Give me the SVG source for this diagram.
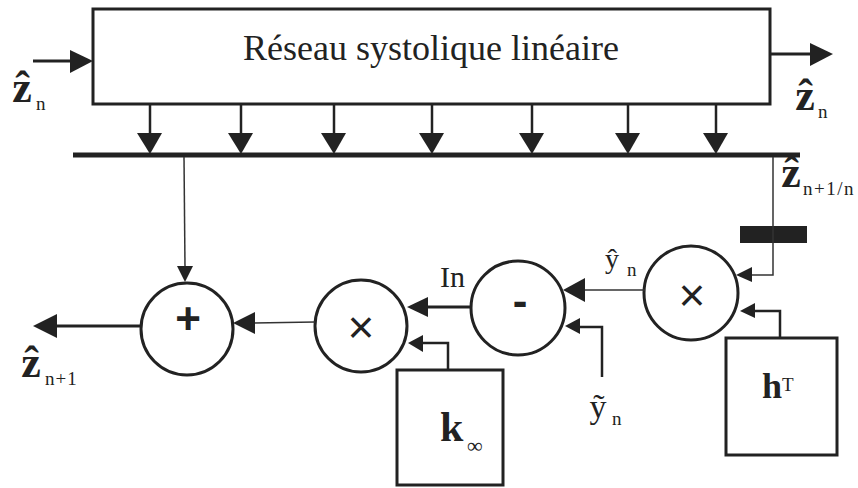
<svg xmlns="http://www.w3.org/2000/svg" width="858" height="488" viewBox="0 0 858 488">
<style>
.box{fill:#fff;stroke:#222;stroke-width:3}
.circ{fill:#fff;stroke:#222;stroke-width:3}
.thin{fill:none;stroke:#333;stroke-width:1.5}
.med{fill:none;stroke:#222;stroke-width:2.5}
.thick{fill:none;stroke:#222;stroke-width:3}
.head{fill:#222;stroke:none}
.t{font-family:"Liberation Serif","Times New Roman",serif;fill:#222}
.b{font-weight:bold}
.z{font-family:"Liberation Serif","Times New Roman",serif;fill:#222;font-weight:bold;font-size:44px;text-anchor:middle}
.s{font-family:"Liberation Serif","Times New Roman",serif;fill:#222;font-size:19px}
.op{font-family:"Liberation Sans",Arial,sans-serif;fill:#222}
</style>
<rect width="858" height="488" fill="#fff"/>
<g id="reseau">
<rect class="box" x="93" y="9" width="677" height="95"/>
<text class="t" x="431" y="60" font-size="36" text-anchor="middle">Réseau systolique linéaire</text>
</g>
<g id="bus">
<line x1="73" y1="155" x2="800" y2="155" stroke="#222" stroke-width="5"/>
</g>
<g id="register">
<rect x="740" y="226" width="67" height="17" fill="#222"/>
</g>
<g id="add">
<circle class="circ" cx="187" cy="329" r="46"/>
<text class="op b" x="188" y="334" font-size="44" text-anchor="middle">+</text>
</g>
<g id="mul1">
<circle class="circ" cx="361" cy="326" r="46"/>
<text class="op" x="361" y="343" font-size="46" text-anchor="middle">×</text>
</g>
<g id="sub">
<circle class="circ" cx="518" cy="308" r="47"/>
<text class="op b" x="520" y="316" font-size="44" text-anchor="middle">-</text>
</g>
<g id="mul2">
<circle class="circ" cx="691" cy="293" r="47"/>
<text class="op" x="692" y="311" font-size="46" text-anchor="middle">×</text>
</g>
<g id="kbox">
<rect class="box" x="397" y="370" width="106" height="115"/>
<text class="t b" x="440" y="441" font-size="42">k</text>
<text class="t" x="467" y="453" font-size="22">∞</text>
</g>
<g id="hbox">
<rect class="box" x="726" y="338" width="111" height="117"/>
<text class="t b" x="762" y="398" font-size="36">h</text>
<text class="t" x="782" y="391" font-size="19">T</text>
</g>
<g id="connectors">
<line class="thick" x1="33" y1="61" x2="75" y2="61"/>
<polygon class="head" points="93,61 70,50 70,73"/>
<line class="thick" x1="770" y1="54" x2="815" y2="54"/>
<polygon class="head" points="833,54 810,43 810,66"/>
<g>
<line class="med" x1="150" y1="104" x2="150" y2="136"/>
<polygon class="head" points="150,154 137,133 162,133"/>
<line class="med" x1="241" y1="104" x2="241" y2="136"/>
<polygon class="head" points="241,154 228,133 253,133"/>
<line class="med" x1="334" y1="104" x2="334" y2="136"/>
<polygon class="head" points="334,154 321,133 346,133"/>
<line class="med" x1="432" y1="104" x2="432" y2="136"/>
<polygon class="head" points="432,154 419,133 444,133"/>
<line class="med" x1="532" y1="104" x2="532" y2="136"/>
<polygon class="head" points="532,154 519,133 544,133"/>
<line class="med" x1="628" y1="104" x2="628" y2="136"/>
<polygon class="head" points="628,154 615,133 640,133"/>
<line class="med" x1="716" y1="104" x2="716" y2="136"/>
<polygon class="head" points="716,154 703,133 728,133"/>
</g>
<line class="thin" x1="184" y1="157" x2="185" y2="268"/>
<polygon class="head" points="185,282 177,266 193,266"/>
<line class="thick" x1="141" y1="326" x2="54" y2="326"/>
<polygon class="head" points="33,326 57,314 57,338"/>
<line class="thin" x1="315" y1="322" x2="252" y2="323"/>
<polygon class="head" points="233,323 255,312 255,334"/>
<line class="thick" x1="471" y1="307" x2="426" y2="307"/>
<polygon class="head" points="407,307 428,297 428,317"/>
<polyline class="med" points="448,370 448,343 421,343"/>
<polygon class="head" points="408,343 423,335 423,352"/>
<line class="thin" x1="645" y1="290" x2="582" y2="290"/>
<polygon class="head" points="563,290 585,278 585,302"/>
<polyline class="med" points="602,377 602,327 578,327"/>
<polygon class="head" points="565,326 580,318 580,334"/>
<polyline class="thin" points="773,157 773,275 750,275"/>
<polygon class="head" points="736,275 752,267 752,282"/>
<polyline class="med" points="780,338 780,311 753,311"/>
<polygon class="head" points="740,311 755,303 755,318"/>
</g>
<g id="labels">
<text class="z" x="22" y="102">ẑ</text>
<text class="s" x="36" y="110">n</text>
<text class="z" x="805" y="110">ẑ</text>
<text class="s" x="818" y="118">n</text>
<text class="z" x="791" y="187">ẑ</text>
<text class="s" x="803" y="195" letter-spacing="1.5">n+1/n</text>
<text class="z" x="31" y="377">ẑ</text>
<text class="s" x="45" y="385" letter-spacing="1">n+1</text>
<text class="t" x="440" y="287" font-size="30">In</text>
<text class="t" x="612" y="268" font-size="28" text-anchor="middle">ŷ</text>
<text class="s" x="627" y="276">n</text>
<text class="t" x="598" y="418" font-size="34" text-anchor="middle">ỹ</text>
<text class="s" x="612" y="425">n</text>
</g>
</svg>
